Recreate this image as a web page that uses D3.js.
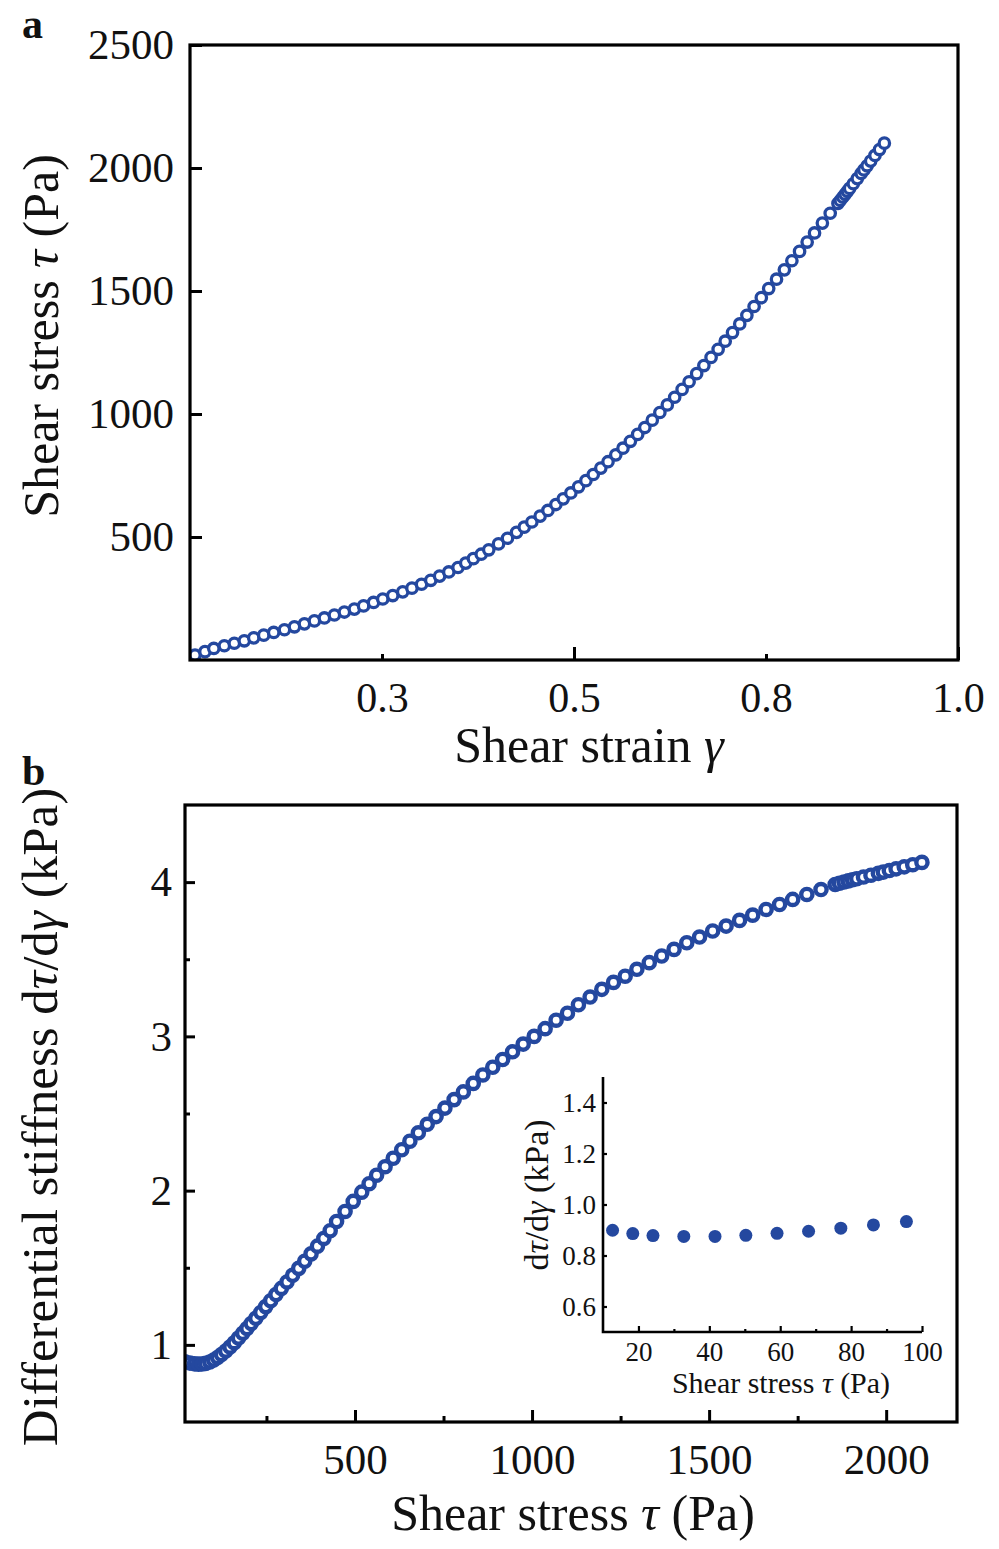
<!DOCTYPE html>
<html>
<head>
<meta charset="utf-8">
<script src="https://cdn.jsdelivr.net/npm/d3@7"></script>
<style>
  html, body { margin: 0; padding: 0; background: #fff; }
  svg { display: block; }
  text { font-family: "Liberation Serif", "Times New Roman", serif; fill: #111; }
</style>
</head>
<body>
<svg id="chart" width="999" height="1549"></svg>
<script>
// ---------------- DATA ----------------
// shared stress steps (Pa)
const stress = [20,34,47,58,68,78,90,101,112,123,135,147,159,171,183,195,207,220,234,248,262,277,292,308,324,341,358,376,394,412,430,448,472,495,519,540,561,585,608,632,655,679,704,729,754,780,806,834,861,889,917,945,975,1006,1037,1068,1100,1131,1164,1197,1230,1263,1296,1331,1366,1401,1437,1473,1510,1548,1586,1623,1661,1699,1736,1776,1816,1856,1868,1881,1893,1905,1917,1936,1957,1978,1992,2009,2028,2051,2075,2101];
// panel a: shear strain at each stress
const strain = [0.0065,0.0195,0.031,0.0447,0.0577,0.0707,0.083,0.096,0.109,0.123,0.136,0.149,0.162,0.175,0.188,0.201,0.214,0.226,0.239,0.251,0.264,0.277,0.289,0.3015,0.3135,0.325,0.337,0.349,0.359,0.369,0.3792,0.389,0.4017,0.4134,0.4252,0.4352,0.4451,0.4559,0.4661,0.4764,0.486,0.4959,0.5059,0.5155,0.5251,0.5349,0.5443,0.5544,0.5638,0.5734,0.5829,0.5922,0.6019,0.6118,0.6215,0.6311,0.6408,0.6499,0.6597,0.6691,0.6785,0.6877,0.6969,0.7064,0.7158,0.7251,0.7345,0.7439,0.7535,0.7637,0.7739,0.7837,0.7937,0.8036,0.8132,0.8234,0.8336,0.8437,0.8467,0.85,0.853,0.856,0.8589,0.8637,0.8689,0.874,0.8775,0.8817,0.8863,0.8919,0.8978,0.9041];
// panel b: differential stiffness (kPa) at each stress
const stiffness = [0.890,0.882,0.877,0.875,0.876,0.880,0.889,0.902,0.918,0.937,0.960,0.986,1.014,1.044,1.075,1.106,1.138,1.172,1.210,1.248,1.286,1.326,1.366,1.408,1.451,1.496,1.542,1.590,1.640,1.690,1.740,1.800,1.865,1.930,1.990,2.045,2.100,2.155,2.210,2.265,2.320,2.375,2.430,2.480,2.535,2.590,2.640,2.695,2.750,2.800,2.850,2.900,2.950,3.000,3.050,3.105,3.150,3.205,3.255,3.305,3.350,3.390,3.435,3.478,3.521,3.564,3.607,3.644,3.683,3.715,3.752,3.786,3.823,3.855,3.888,3.920,3.952,3.985,3.993,4.001,4.008,4.015,4.022,4.033,4.045,4.057,4.065,4.075,4.086,4.099,4.113,4.128];
// inset
const insetStress = [12.7,18.4,24.1,32.8,41.6,50.3,59.1,68.0,77.1,86.3,95.6];
const insetStiffness = [0.899,0.886,0.878,0.875,0.875,0.879,0.887,0.895,0.907,0.920,0.933];

// ticks
const aXTicks = [0.25,0.5,0.75,1.0];
const aXTickLabels = ["0.3","0.5","0.8","1.0"];
const aXMajor = [0.5,1.0];
const aYTicks = [500,1000,1500,2000,2500];
const bXMajor = [500,1000,1500,2000];
const bXMinor = [250,750,1250,1750];
const bYMajor = [1,2,3,4];
const bYMinor = [1.5,2.5,3.5];
const iXMajor = [20,40,60,80,100];
const iXMinor = [30,50,70,90];
const iYMajor = [0.6,0.8,1.0,1.2,1.4];

// ---------------- DRAW ----------------
const BLUE = "#24489f";
const svg = d3.select("#chart");

function axisClean(g){ g.select(".domain").remove(); g.selectAll("text").style("fill","#111"); }

// ===== Panel a =====
const A = {l:190, r:958, t:45, b:660};
const xa = d3.scaleLinear().domain([0,1]).range([A.l, A.r]);
const ya = d3.scaleLinear().domain([0,2500]).range([A.b, A.t]);

svg.append("clipPath").attr("id","clipA").append("rect")
  .attr("x",A.l).attr("y",A.t).attr("width",A.r-A.l).attr("height",A.b-A.t);

const pa = svg.append("g").attr("clip-path","url(#clipA)");
pa.selectAll("circle").data(stress).join("circle")
  .attr("cx",(d,i)=>xa(strain[i])).attr("cy",d=>ya(d)).attr("r",5.2)
  .attr("fill","#fff").attr("stroke",BLUE).attr("stroke-width",3.3);

// x axis a: labels
svg.append("g").attr("transform",`translate(0,${A.b})`)
  .call(d3.axisBottom(xa).tickValues(aXTicks).tickSize(0).tickPadding(22)
    .tickFormat((d,i)=>aXTickLabels[i]))
  .call(axisClean).selectAll("text").style("font-size","42px");
// x ticks a (inward)
svg.append("g").attr("transform",`translate(0,${A.b})`)
  .call(d3.axisBottom(xa).tickValues(aXMajor).tickSize(-13).tickFormat(""))
  .call(axisClean).selectAll("line").attr("stroke","#000").attr("stroke-width",3);
svg.append("g").attr("transform",`translate(0,${A.b})`)
  .call(d3.axisBottom(xa).tickValues(aXTicks.filter(v=>!aXMajor.includes(v))).tickSize(-6).tickFormat(""))
  .call(axisClean).selectAll("line").attr("stroke","#000").attr("stroke-width",3);
// y axis a
const gya = svg.append("g").attr("transform",`translate(${A.l},0)`)
  .call(d3.axisLeft(ya).tickValues(aYTicks).tickSize(-12).tickPadding(16).tickFormat(d3.format("d")))
  .call(axisClean);
gya.selectAll("text").style("font-size","43px");
gya.selectAll("line").attr("stroke","#000").attr("stroke-width",3);

svg.append("rect").attr("x",A.l).attr("y",A.t).attr("width",A.r-A.l).attr("height",A.b-A.t)
  .attr("fill","none").attr("stroke","#000").attr("stroke-width",3.2);

// titles a
const txa = svg.append("text").attr("x",589).attr("y",762).attr("text-anchor","middle").style("font-size","50px");
txa.append("tspan").text("Shear strain ");
txa.append("tspan").attr("font-style","italic").text("γ");
const tya = svg.append("text").attr("transform","translate(58,336) rotate(-90)").attr("text-anchor","middle").style("font-size","50px");
tya.append("tspan").text("Shear stress ");
tya.append("tspan").attr("font-style","italic").text("τ");
tya.append("tspan").text(" (Pa)");
svg.append("text").attr("x",22).attr("y",38).style("font-size","42px").style("font-weight","bold").text("a");

// ===== Panel b =====
const B = {l:185, r:957, t:805, b:1422};
const xb = d3.scaleLinear().domain([20,2200]).range([B.l, B.r]);
const yb = d3.scaleLinear().domain([0.5,4.5]).range([B.b, B.t]);

svg.append("clipPath").attr("id","clipB").append("rect")
  .attr("x",B.l).attr("y",B.t).attr("width",B.r-B.l).attr("height",B.b-B.t);
const pb = svg.append("g").attr("clip-path","url(#clipB)");
pb.selectAll("circle").data(stress).join("circle")
  .attr("cx",d=>xb(d)).attr("cy",(d,i)=>yb(stiffness[i])).attr("r",5.6)
  .attr("fill","#fff").attr("stroke",BLUE).attr("stroke-width",4.4);

const gxb = svg.append("g").attr("transform",`translate(0,${B.b})`)
  .call(d3.axisBottom(xb).tickValues(bXMajor).tickSize(-12).tickPadding(21).tickFormat(d3.format("d")))
  .call(axisClean);
gxb.selectAll("text").style("font-size","43px");
gxb.selectAll("line").attr("stroke","#000").attr("stroke-width",3);
svg.append("g").attr("transform",`translate(0,${B.b})`)
  .call(d3.axisBottom(xb).tickValues(bXMinor).tickSize(-6).tickFormat(""))
  .call(axisClean).selectAll("line").attr("stroke","#000").attr("stroke-width",3);
const gyb = svg.append("g").attr("transform",`translate(${B.l},0)`)
  .call(d3.axisLeft(yb).tickValues(bYMajor).tickSize(-10).tickPadding(13).tickFormat(d3.format("d")))
  .call(axisClean);
gyb.selectAll("text").style("font-size","43px");
gyb.selectAll("line").attr("stroke","#000").attr("stroke-width",3);
svg.append("g").attr("transform",`translate(${B.l},0)`)
  .call(d3.axisLeft(yb).tickValues(bYMinor).tickSize(-5).tickFormat(""))
  .call(axisClean).selectAll("line").attr("stroke","#000").attr("stroke-width",3);

svg.append("rect").attr("x",B.l).attr("y",B.t).attr("width",B.r-B.l).attr("height",B.b-B.t)
  .attr("fill","none").attr("stroke","#000").attr("stroke-width",3.2);

const txb = svg.append("text").attr("x",573).attr("y",1530).attr("text-anchor","middle").style("font-size","50px");
txb.append("tspan").text("Shear stress ");
txb.append("tspan").attr("font-style","italic").text("τ");
txb.append("tspan").text(" (Pa)");
const tyb = svg.append("text").attr("transform","translate(57,1117) rotate(-90)").attr("text-anchor","middle").style("font-size","51px");
tyb.append("tspan").text("Differential stiffness d");
tyb.append("tspan").attr("font-style","italic").text("τ");
tyb.append("tspan").text("/d");
tyb.append("tspan").attr("font-style","italic").text("γ");
tyb.append("tspan").text(" (kPa)");
svg.append("text").attr("x",22).attr("y",785).style("font-size","42px").style("font-weight","bold").text("b");

// ===== Inset =====
const I = {l:603, r:922, t:1077, b:1332};
const xi = d3.scaleLinear().domain([10,100]).range([I.l, I.r]);
const yi = d3.scaleLinear().domain([0.5,1.5]).range([I.b, I.t]);

svg.append("g").selectAll("circle").data(insetStress).join("circle")
  .attr("cx",d=>xi(d)).attr("cy",(d,i)=>yi(insetStiffness[i])).attr("r",6.5)
  .attr("fill",BLUE);

const gxi = svg.append("g").attr("transform",`translate(0,${I.b})`)
  .call(d3.axisBottom(xi).tickValues(iXMajor).tickSize(-6).tickPadding(10).tickFormat(d3.format("d")))
  .call(axisClean);
gxi.selectAll("text").style("font-size","27px");
gxi.selectAll("line").attr("stroke","#000").attr("stroke-width",2.2);
svg.append("g").attr("transform",`translate(0,${I.b})`)
  .call(d3.axisBottom(xi).tickValues(iXMinor).tickSize(-3).tickFormat(""))
  .call(axisClean).selectAll("line").attr("stroke","#000").attr("stroke-width",2.2);
const gyi = svg.append("g").attr("transform",`translate(${I.l},0)`)
  .call(d3.axisLeft(yi).tickValues(iYMajor).tickSize(-4).tickPadding(7).tickFormat(d3.format(".1f")))
  .call(axisClean);
gyi.selectAll("text").style("font-size","27px");
gyi.selectAll("line").attr("stroke","#000").attr("stroke-width",2.2);

svg.append("path")
  .attr("d",`M${I.l},${I.t}V${I.b}H${I.r}`)
  .attr("fill","none").attr("stroke","#000").attr("stroke-width",2.6);

const txi = svg.append("text").attr("x",781).attr("y",1393).attr("text-anchor","middle").style("font-size","30px");
txi.append("tspan").text("Shear stress ");
txi.append("tspan").attr("font-style","italic").text("τ");
txi.append("tspan").text(" (Pa)");
const tyi = svg.append("text").attr("transform","translate(548,1195) rotate(-90)").attr("text-anchor","middle").style("font-size","34px");
tyi.append("tspan").text("d");
tyi.append("tspan").attr("font-style","italic").text("τ");
tyi.append("tspan").text("/d");
tyi.append("tspan").attr("font-style","italic").text("γ");
tyi.append("tspan").text(" (kPa)");
</script>
</body>
</html>
